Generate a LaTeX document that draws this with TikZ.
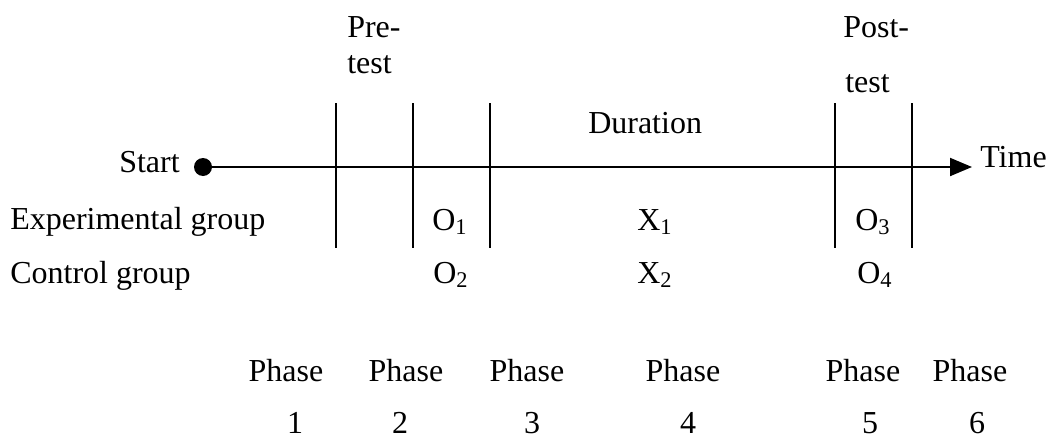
\documentclass[tikz,border=0pt]{standalone}
\usepackage{fontspec}
\setmainfont{Liberation Serif}
\usetikzlibrary{arrows.meta}
\tikzset{
  tl axis/.style={draw=black, line width=1.5pt},
  tl tick/.style={draw=black, line width=1.5pt},
  tl dot/.style={circle, fill=black, minimum size=18pt*0.75, inner sep=0pt},
  tl label/.style={font=\fontsize{24}{28}\selectfont, text=black, inner sep=0pt},
}

\begin{document}
\begin{tikzpicture}[x=.75pt,y=-.75pt]
  \useasboundingbox (0,0) rectangle (1052,439);
  % time axis
  \node[tl dot] (start) at (203,167) {};
  \coordinate (tend) at (972,167);
  \draw[tl axis,-{Triangle[length=16.5pt,width=13.5pt]}] (start.center) -- (tend);
  \node[tl label,anchor=base east] (startlbl) at (180,172) {Start};
  \node[tl label,anchor=base west] (timelbl) at (980,167) {Time};
  \foreach \x [count=\i] in {336,413,490,835,912}{\draw[tl tick] (\x,103) coordinate (t\i) -- (\x,248) coordinate (b\i);}
  % headings
  \node[tl label,anchor=base west] (pre) at (347,37) {Pre-};
  \node[tl label,anchor=base west] (pretest) at (347,73) {test};
  \node[tl label,anchor=base west] (post) at (843,37) {Post-};
  \node[tl label,anchor=base west] (posttest) at (845,92) {test};
  \node[tl label,anchor=base west] (dur) at (588,133) {Duration};
  % groups
  \node[tl label,anchor=base west] (exp) at (10,229) {Experimental group};
  \node[tl label,anchor=base west] (ctl) at (10,283) {Control group};
  \node[tl label,anchor=base west] (o1) at (432,230) {O\textsubscript{1}};
  \node[tl label,anchor=base west] (x1) at (637,230) {X\textsubscript{1}};
  \node[tl label,anchor=base west] (o3) at (855,230) {O\textsubscript{3}};
  \node[tl label,anchor=base west] (o2) at (433,283) {O\textsubscript{2}};
  \node[tl label,anchor=base west] (x2) at (637,283) {X\textsubscript{2}};
  \node[tl label,anchor=base west] (o4) at (857,283) {O\textsubscript{4}};
  % phases
  \foreach \px/\nx [count=\i] in {286/295,406/400,527/532,683/688,863/870,970/977}{\node[tl label,anchor=base] (ph\i) at (\px,381) {Phase}; \node[tl label,anchor=base] (pn\i) at (\nx,433) {\i};}
\end{tikzpicture}
\end{document}
